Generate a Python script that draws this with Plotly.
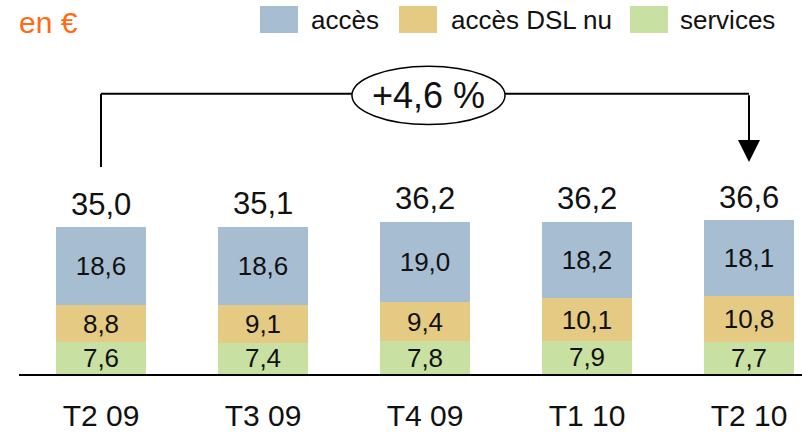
import plotly.graph_objects as go

categories = ["T2 09", "T3 09", "T4 09", "T1 10", "T2 10"]
services = [7.6, 7.4, 7.8, 7.9, 7.7]
acces_dsl_nu = [8.8, 9.1, 9.4, 10.1, 10.8]
acces = [18.6, 18.6, 19.0, 18.2, 18.1]
totals = [35.0, 35.1, 36.2, 36.2, 36.6]
growth_label = "+4,6 %"
unit_label = "en €"

series = [
    ("services", services, "#C8E0A2"),
    ("accès DSL nu", acces_dsl_nu, "#E4CA83"),
    ("accès", acces, "#A7BDD1"),
]

FONT = "Liberation Sans"
W, H = 802, 432


def fr(v):
    return f"{v:.1f}".replace(".", ",")


xs = list(range(len(categories)))
fig = go.Figure()
for name, vals, color in series:
    fig.add_trace(go.Bar(
        x=xs, y=vals, name=name, marker=dict(color=color, line=dict(width=0)),
        width=0.556, text=[fr(v) for v in vals], textposition="inside",
        insidetextanchor="middle", constraintext="none",
        textfont=dict(size=26, color="#111111", family=FONT),
        showlegend=False, hoverinfo="skip",
    ))

annotations = []
for i, t in enumerate(totals):
    annotations.append(dict(x=i, y=t, xref="x", yref="y", text=fr(t), showarrow=False,
                            yanchor="middle", yshift=23,
                            font=dict(size=31, color="#111111", family=FONT)))

# bracket arrow from first to last bar
y_top = 66.7
y_start = totals[0] + 14.3
y_tip = totals[-1] + 13.9
shapes = [
    dict(type="line", xref="x", yref="y", x0=0, x1=0, y0=y_start, y1=y_top,
         line=dict(color="black", width=2)),
    dict(type="line", xref="x", yref="y", x0=0, x1=len(categories) - 1, y0=y_top, y1=y_top,
         line=dict(color="black", width=2)),
    dict(type="circle", xref="x", yref="y", x0=1.549, x1=2.494, y0=59.4, y1=73.3,
         fillcolor="white", line=dict(color="black", width=1.5)),
]
annotations.append(dict(x=len(categories) - 1, y=y_tip, xref="x", yref="y",
                        ax=len(categories) - 1, ay=y_top, axref="x", ayref="y",
                        text="", showarrow=True, arrowhead=2, arrowsize=2.2,
                        arrowwidth=2, arrowcolor="black"))
annotations.append(dict(x=2.02, y=66.3, xref="x", yref="y", text=growth_label,
                        showarrow=False, font=dict(size=36, color="#111111", family=FONT)))

annotations.append(dict(x=17 / W, y=1 - 22 / H, xref="paper", yref="paper", text=unit_label,
                        xanchor="left", yanchor="middle", showarrow=False,
                        font=dict(size=30, color="#FF6A13", family=FONT)))

# legend (manual)
leg_sq_x = [260, 399, 630]
leg_tx_x = [309, 449, 678]
for (name, vals, color), sx, tx in zip(reversed(series), leg_sq_x, leg_tx_x):
    shapes.append(dict(type="rect", xref="paper", yref="paper", x0=sx / W, x1=(sx + 38) / W,
                       y0=1 - 33 / H, y1=1 - 6 / H, fillcolor=color, line=dict(width=0)))
    annotations.append(dict(x=tx / W, y=1 - 20 / H, xref="paper", yref="paper", text=name,
                            xanchor="left", yanchor="middle", showarrow=False,
                            font=dict(size=26, color="#111111", family=FONT)))

px_per_unit = 4.2
base_px = 374
fig.update_layout(
    width=W, height=H, margin=dict(l=0, r=0, t=0, b=0, autoexpand=False),
    barmode="stack", plot_bgcolor="white", paper_bgcolor="white",
    font=dict(family=FONT, color="#111111"),
    xaxis=dict(domain=[19 / W, 1], range=[-(101 - 19) / 162, -(101 - 19) / 162 + 783 / 162],
               tickvals=xs, ticktext=categories, showline=True, linecolor="black", linewidth=2,
               ticks="outside", ticklen=14, tickcolor="rgba(0,0,0,0)", showgrid=False,
               zeroline=False, automargin=False,
               tickfont=dict(size=30, color="#111111", family=FONT)),
    yaxis=dict(domain=[(H - base_px) / H, 1], range=[0, base_px / px_per_unit], visible=False,
               showgrid=False, zeroline=False),
    shapes=shapes, annotations=annotations,
)

fig.write_html(
    "out.html",
    config={"displayModeBar": False},
    post_script="document.body.style.margin='0';document.body.style.overflow='hidden';",
)
